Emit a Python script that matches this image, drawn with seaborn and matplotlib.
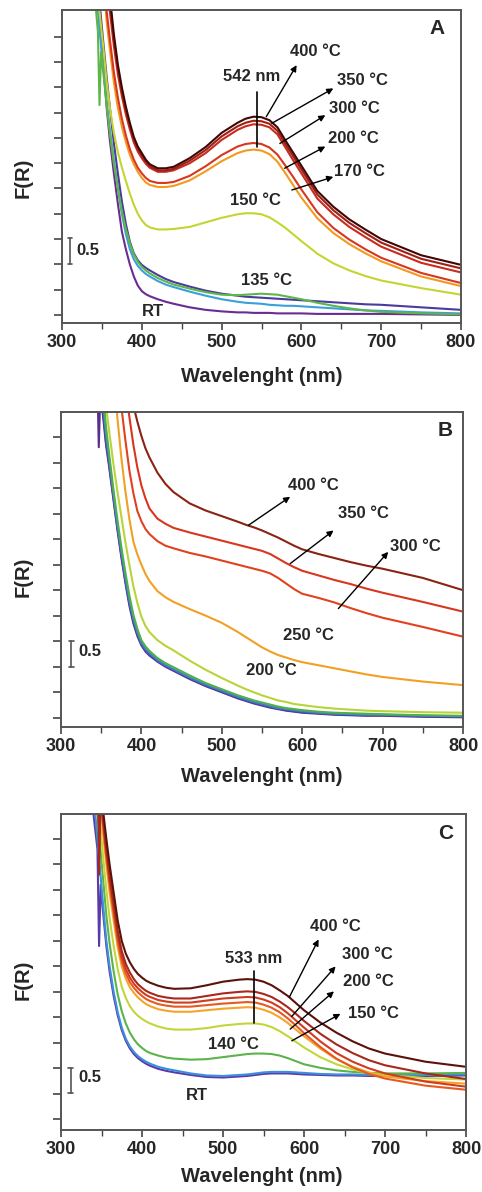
import matplotlib
matplotlib.use("Agg")
import matplotlib.pyplot as plt
import numpy as np
import pandas as pd
import seaborn as sns

# wavelength grid (nm)
wl = [340, 345, 347, 349, 352, 356, 360,
      365, 370, 375, 380, 385, 390, 395, 400, 405, 410, 420, 430, 440,
      460, 480, 500, 520, 530, 540, 550, 560, 570, 580, 590, 600, 620, 640, 660, 680, 700, 750, 800]

# ---------------- Panel A ----------------
a_rt = [7.2, 6.2, 5.8, 5.45, 4.9, 4.1, 3.45,
        2.8, 2.2, 1.65, 1.3, 1.0, 0.76, 0.58, 0.47, 0.41, 0.37, 0.31, 0.26, 0.22,
        0.15, 0.1, 0.07, 0.05, 0.05, 0.04, 0.04, 0.04, 0.03, 0.03, 0.03, 0.03, 0.02, 0.02, 0.02, 0.02, 0.02, 0.01, 0.0]
a_lb = [7.0, 6.0, 5.65, 5.3, 4.85, 4.2, 3.65,
        3.05, 2.5, 2.0, 1.6, 1.3, 1.1, 0.97, 0.88, 0.81, 0.76, 0.67, 0.6, 0.55,
        0.46, 0.38, 0.31, 0.26, 0.24, 0.23, 0.22, 0.2, 0.19, 0.18, 0.18, 0.17, 0.15, 0.13, 0.11, 0.09, 0.08, 0.05, 0.03]
a_ind = [7.8, 6.6, 6.2, 5.85, 5.35, 4.7, 4.1,
         3.4, 2.8, 2.25, 1.8, 1.45, 1.22, 1.08, 0.99, 0.93, 0.88, 0.79, 0.71, 0.65,
         0.56, 0.48, 0.42, 0.38, 0.36, 0.35, 0.34, 0.33, 0.32, 0.31, 0.3, 0.29, 0.27, 0.25, 0.23, 0.21, 0.2, 0.15, 0.1]
a_135 = [6.5, 5.6, 4.15, 5.2, 4.75, 4.15, 3.6,
         3.0, 2.5, 2.05, 1.7, 1.42, 1.2, 1.05, 0.95, 0.88, 0.82, 0.73, 0.66, 0.6,
         0.52, 0.45, 0.4, 0.39, 0.4, 0.41, 0.42, 0.41, 0.4, 0.37, 0.34, 0.31, 0.24, 0.18, 0.13, 0.09, 0.06, 0.03, 0.01]
a_150 = [7.0, 6.3, 6.0, 5.7, 5.25, 4.6, 4.1,
         3.6, 3.22, 2.92, 2.65, 2.4, 2.18, 2.0, 1.87, 1.78, 1.73, 1.69, 1.69, 1.7,
         1.74, 1.83, 1.92, 1.99, 2.01, 2.01, 1.99, 1.93, 1.83, 1.72, 1.59, 1.46, 1.21, 1.02, 0.88, 0.77, 0.68, 0.53, 0.40]
a_170 = [9, 9, 9, 8.3, 6.6, 5.8, 5.25,
         4.6, 4.1, 3.72, 3.42, 3.17, 2.98, 2.83, 2.71, 2.62, 2.57, 2.53, 2.53, 2.55,
         2.66, 2.84, 3.04, 3.2, 3.25, 3.27, 3.25, 3.18, 3.03, 2.8, 2.56, 2.32, 1.91, 1.62, 1.4, 1.22, 1.06, 0.76, 0.57]
a_200 = [9, 9, 9, 8.5, 6.8, 6.0, 5.45,
         4.8, 4.3, 3.88, 3.55, 3.28, 3.07, 2.91, 2.8, 2.71, 2.65, 2.61, 2.61, 2.63,
         2.75, 2.94, 3.16, 3.33, 3.38, 3.4, 3.38, 3.31, 3.17, 2.95, 2.72, 2.48, 2.03, 1.72, 1.49, 1.3, 1.13, 0.83, 0.63]
a_300 = [9, 9, 9, 9, 8.5, 6.5, 6.0,
         5.32, 4.76, 4.33, 3.97, 3.67, 3.41, 3.23, 3.1, 2.99, 2.91, 2.83, 2.83, 2.86,
         3.0, 3.2, 3.46, 3.66, 3.73, 3.77, 3.76, 3.71, 3.57, 3.31, 3.05, 2.8, 2.3, 1.99, 1.74, 1.54, 1.35, 1.03, 0.84]
a_350 = [9, 9, 9, 9, 9, 6.7, 6.15,
         5.45, 4.87, 4.42, 4.05, 3.74, 3.47, 3.28, 3.15, 3.03, 2.94, 2.86, 2.86, 2.89,
         3.05, 3.26, 3.53, 3.73, 3.8, 3.84, 3.83, 3.78, 3.64, 3.38, 3.13, 2.88, 2.38, 2.07, 1.82, 1.62, 1.43, 1.11, 0.92]
a_400 = [9, 9, 9, 9, 9, 6.9, 6.3,
         5.55, 4.95, 4.5, 4.12, 3.8, 3.52, 3.33, 3.2, 3.07, 2.98, 2.9, 2.9, 2.93,
         3.1, 3.32, 3.6, 3.8, 3.88, 3.92, 3.91, 3.85, 3.71, 3.45, 3.2, 2.95, 2.45, 2.14, 1.89, 1.69, 1.5, 1.18, 0.99]

# ---------------- Panel B ----------------
b_rt = [8.0, 6.8, 5.3, 6.4, 5.95, 5.35, 4.9,
        4.3, 3.7, 3.15, 2.65, 2.2, 1.85, 1.6, 1.42, 1.3, 1.22, 1.1, 1.0, 0.92,
        0.76, 0.62, 0.5, 0.38, 0.33, 0.28, 0.24, 0.2, 0.17, 0.14, 0.12, 0.1, 0.08, 0.06, 0.05, 0.04, 0.04, 0.02, 0.01]
b_ind = [8.2, 7.0, 6.7, 6.45, 6.05, 5.4, 4.95,
         4.35, 3.75, 3.2, 2.7, 2.25, 1.9, 1.64, 1.44, 1.32, 1.24, 1.11, 1.01, 0.93,
         0.77, 0.63, 0.51, 0.39, 0.34, 0.29, 0.25, 0.21, 0.18, 0.15, 0.13, 0.11, 0.09, 0.07, 0.06, 0.05, 0.05, 0.03, 0.02]
b_blue = [8.4, 7.2, 6.9, 6.6, 6.2, 5.55, 5.05,
          4.4, 3.8, 3.25, 2.75, 2.3, 1.94, 1.67, 1.47, 1.35, 1.27, 1.13, 1.03, 0.95,
          0.79, 0.65, 0.53, 0.41, 0.36, 0.31, 0.27, 0.23, 0.19, 0.17, 0.15, 0.13, 0.1, 0.08, 0.07, 0.06, 0.06, 0.04, 0.03]
b_grn = [8.6, 7.4, 7.1, 6.8, 6.4, 5.7, 5.15,
         4.5, 3.9, 3.35, 2.85, 2.4, 2.02, 1.74, 1.52, 1.4, 1.31, 1.17, 1.07, 0.99,
         0.83, 0.68, 0.56, 0.44, 0.39, 0.34, 0.3, 0.26, 0.22, 0.19, 0.17, 0.15, 0.12, 0.1, 0.09, 0.08, 0.07, 0.05, 0.04]
b_200 = [9, 8.0, 7.5, 7.0, 6.6, 6.1, 5.6,
         5.0, 4.45, 3.95, 3.45, 3.0, 2.58, 2.25, 1.98, 1.8, 1.68, 1.52, 1.41, 1.32,
         1.12, 0.94, 0.78, 0.63, 0.56, 0.5, 0.44, 0.39, 0.34, 0.31, 0.27, 0.25, 0.21, 0.18, 0.16, 0.14, 0.13, 0.11, 0.1]
b_250 = [9, 9, 9, 9, 9, 9, 7.6,
         6.7, 5.9, 5.1, 4.45, 3.9, 3.45, 3.2, 3.0, 2.82, 2.68, 2.48, 2.36, 2.27,
         2.13, 2.0, 1.86, 1.68, 1.58, 1.48, 1.38, 1.3, 1.23, 1.18, 1.13, 1.09, 1.03, 0.97, 0.91, 0.85, 0.8, 0.71, 0.64]
b_300 = [9, 9, 9, 9, 9, 9, 9,
         7.8, 6.8, 6.1, 5.45, 4.85, 4.4, 4.05, 3.85, 3.7, 3.6, 3.46, 3.37, 3.32,
         3.23, 3.16, 3.08, 3.0, 2.96, 2.92, 2.88, 2.83, 2.74, 2.63, 2.52, 2.43, 2.35, 2.26, 2.15, 2.05, 1.96, 1.78, 1.59]
b_350 = [9, 9, 9, 9, 9, 9, 9,
         9, 9, 7.5, 6.5, 5.9, 5.35, 4.9, 4.55, 4.3, 4.1, 3.9, 3.8, 3.72,
         3.63, 3.55, 3.47, 3.39, 3.35, 3.31, 3.27, 3.21, 3.12, 3.03, 2.95, 2.88, 2.79, 2.7, 2.62, 2.53, 2.45, 2.27, 2.08]
b_400 = [9, 9, 9, 9, 9, 9, 9,
         9, 9, 9, 9, 6.8, 6.12, 5.8, 5.52, 5.28, 5.1, 4.8, 4.58, 4.42,
         4.2, 4.06, 3.95, 3.84, 3.78, 3.73, 3.67, 3.6, 3.53, 3.45, 3.37, 3.3, 3.21, 3.13, 3.05, 2.98, 2.92, 2.74, 2.5]

# ---------------- Panel C ----------------
c_rt = [6.0, 5.3, 3.4, 4.6, 4.05, 3.4, 2.9,
        2.42, 2.04, 1.75, 1.54, 1.39, 1.28, 1.2, 1.14, 1.09, 1.05, 0.99, 0.95, 0.92,
        0.87, 0.83, 0.82, 0.84, 0.85, 0.87, 0.89, 0.9, 0.9, 0.9, 0.89, 0.88, 0.87, 0.86, 0.86, 0.85, 0.85, 0.85, 0.86]
c_blue = [6.4, 5.5, 5.1, 4.75, 4.2, 3.5, 3.0,
          2.5, 2.1, 1.8, 1.58, 1.43, 1.32, 1.24, 1.18, 1.13, 1.09, 1.03, 0.99, 0.96,
          0.9, 0.86, 0.85, 0.87, 0.88, 0.9, 0.92, 0.93, 0.93, 0.93, 0.92, 0.91, 0.89, 0.88, 0.88, 0.87, 0.87, 0.87, 0.88]
c_140 = [7.5, 6.0, 5.6, 5.25, 4.7, 4.0, 3.45,
         2.9, 2.45, 2.12, 1.88, 1.7, 1.57, 1.47, 1.4, 1.34, 1.3, 1.25, 1.21, 1.19,
         1.17, 1.18, 1.22, 1.26, 1.28, 1.29, 1.29, 1.28, 1.25, 1.2, 1.14, 1.08, 1.01, 0.96, 0.93, 0.91, 0.9, 0.9, 0.91]
c_150 = [8.0, 6.4, 6.0, 5.7, 5.15, 4.5, 3.95,
         3.4, 2.95, 2.6, 2.38, 2.22, 2.11, 2.03, 1.97, 1.92, 1.88, 1.82, 1.78, 1.76,
         1.76, 1.79, 1.84, 1.87, 1.88, 1.88, 1.86, 1.81, 1.73, 1.63, 1.52, 1.41, 1.22, 1.08, 0.98, 0.91, 0.87, 0.81, 0.78]
c_170 = [8.5, 6.9, 6.5, 6.2, 5.6, 5.0, 4.45,
         3.9, 3.38, 3.0, 2.76, 2.59, 2.48, 2.39, 2.32, 2.26, 2.22, 2.16, 2.13, 2.11,
         2.11, 2.14, 2.17, 2.19, 2.2, 2.19, 2.15, 2.09, 2.0, 1.89, 1.76, 1.63, 1.39, 1.18, 1.03, 0.92, 0.84, 0.75, 0.7]
c_200 = [9, 7.1, 6.7, 6.4, 5.75, 5.15, 4.6,
         4.05, 3.5, 3.1, 2.86, 2.69, 2.58, 2.49, 2.42, 2.36, 2.32, 2.26, 2.23, 2.21,
         2.21, 2.24, 2.27, 2.29, 2.3, 2.29, 2.25, 2.19, 2.1, 1.98, 1.84, 1.69, 1.42, 1.19, 1.02, 0.89, 0.8, 0.66, 0.58]
c_300 = [9, 7.3, 6.9, 6.5, 5.85, 5.25, 4.7,
         4.15, 3.6, 3.2, 2.95, 2.78, 2.66, 2.57, 2.5, 2.44, 2.4, 2.34, 2.31, 2.29,
         2.29, 2.33, 2.37, 2.39, 2.4, 2.39, 2.35, 2.29, 2.2, 2.08, 1.94, 1.8, 1.53, 1.3, 1.13, 1.0, 0.9, 0.74, 0.64]
c_350 = [9, 7.5, 4.8, 6.4, 5.9, 5.3, 4.8,
         4.25, 3.7, 3.3, 3.05, 2.88, 2.75, 2.65, 2.58, 2.52, 2.48, 2.42, 2.39, 2.37,
         2.37, 2.42, 2.47, 2.5, 2.51, 2.5, 2.46, 2.4, 2.31, 2.2, 2.07, 1.93, 1.68, 1.47, 1.3, 1.16, 1.06, 0.9, 0.79]
c_400 = [9, 8.0, 7.5, 6.6, 6.05, 5.5, 5.0,
         4.45, 3.9, 3.5, 3.25, 3.08, 2.95, 2.85, 2.78, 2.72, 2.68, 2.62, 2.58, 2.56,
         2.57, 2.63, 2.7, 2.74, 2.75, 2.74, 2.7, 2.63, 2.53, 2.42, 2.28, 2.14, 1.9, 1.7, 1.53, 1.39, 1.29, 1.13, 1.03]

x_ticks = [300, 400, 500, 600, 700, 800]
x_label = "Wavelenght (nm)"
y_label = "F(R)"

sns.set_theme(style="white")
plt.rcParams['font.family'] = ['Liberation Sans', 'DejaVu Sans']
plt.rcParams['font.weight'] = 'bold'

W, H = 482, 1192
fig = plt.figure(figsize=(W / 100, H / 100), dpi=100)
fig.patch.set_facecolor('white')

TXT = '#262626'


def px_axes(l, t, r, b):
    return fig.add_axes([l / W, 1 - b / H, (r - l) / W, (b - t) / H])


def draw(ax, series, ylim):
    frames = []
    for name, vals, col in series:
        assert len(vals) == len(wl), name
        frames.append(pd.DataFrame({'wl': wl, 'F': vals, 'series': name}))
    df = pd.concat(frames, ignore_index=True)
    pal = {name: col for name, vals, col in series}
    order = [name for name, vals, col in series]
    sns.lineplot(data=df, x='wl', y='F', hue='series', hue_order=order, palette=pal,
                 estimator=None, sort=False, legend=False, lw=1.5, ax=ax)
    ax.set_xlim(300, 800)
    ax.set_ylim(*ylim)
    ax.set_xticks(x_ticks)
    ax.set_xticks([350, 450, 550, 650, 750], minor=True)
    ax.set_yticks(np.arange(0, 5.6, 0.5))
    ax.set_yticklabels([])
    ax.set_xticklabels([str(v) for v in x_ticks], fontsize=13, fontweight='bold', color=TXT)
    ax.tick_params(axis='x', which='major', direction='out', length=5, width=1.2,
                   color='#444', pad=3, bottom=True)
    ax.tick_params(axis='x', which='minor', direction='out', length=4, width=1.0,
                   color='#444', bottom=True)
    ax.tick_params(axis='y', which='major', direction='out', length=6, width=1.2,
                   color='#444', left=True)
    ax.set_xlabel('')
    ax.set_ylabel('')
    for s in ax.spines.values():
        s.set_color('#555')
        s.set_linewidth(1.4)


def scalebar(ax, x, y0, y1, tx, ty):
    ax.plot([x, x], [y0, y1], color='#555', lw=1.2)
    ax.plot([x - 3, x + 3], [y0, y0], color='#555', lw=1.2)
    ax.plot([x - 3, x + 3], [y1, y1], color='#555', lw=1.2)
    ax.text(tx, ty, '0.5', fontsize=12, fontweight='bold', color=TXT, ha='center', va='center')


def label(ax, x, y, s, size=12):
    ax.text(x, y, s, fontsize=size, fontweight='bold', color=TXT, ha='center', va='center')


def arrow(ax, x0, y0, x1, y1):
    ax.annotate('', xy=(x1, y1), xytext=(x0, y0),
                arrowprops=dict(arrowstyle='-|>', lw=1.0, color='black', mutation_scale=9,
                                shrinkA=0, shrinkB=0))


# ---------------- Panel A ----------------
axA = px_axes(62, 10, 461, 323)
draw(axA, [('RT', a_rt, '#6b2c91'), ('100', a_lb, '#3aa0dc'), ('120', a_ind, '#4a3b9c'),
           ('135', a_135, '#5db64a'), ('150', a_150, '#c4d52f'), ('170', a_170, '#f39a1e'),
           ('200', a_200, '#d9361f'), ('300', a_300, '#c92b1c'), ('350', a_350, '#a01f14'),
           ('400', a_400, '#3e0806')], (-0.16, 6.03))
axA.text(0.94, 0.942, 'A', transform=axA.transAxes, fontsize=15, fontweight='bold',
         color=TXT, ha='center', va='center')
label(axA, 538, 4.71, '542 nm')
axA.plot([544, 544], [3.33, 4.41], color='black', lw=1.2)
label(axA, 617, 5.20, '400 °C')
label(axA, 676, 4.64, '350 °C')
label(axA, 667, 4.08, '300 °C')
label(axA, 665, 3.49, '200 °C')
label(axA, 673, 2.83, '170 °C')
label(axA, 542, 2.27, '150 °C')
label(axA, 556, 0.69, '135 °C')
label(axA, 414, 0.07, 'RT')
arrow(axA, 556, 3.92, 594, 4.94)
arrow(axA, 563, 3.79, 640, 4.48)
arrow(axA, 573, 3.39, 630, 3.95)
arrow(axA, 579, 2.90, 630, 3.33)
arrow(axA, 588, 2.47, 640, 2.73)
scalebar(axA, 310, 1.0, 1.52, 333, 1.28)

# ---------------- Panel B ----------------
axB = px_axes(61, 412, 463, 727)
draw(axB, [('RT', b_rt, '#5b2d8e'), ('100', b_ind, '#4a46a8'), ('135', b_blue, '#3d7fc6'),
           ('150', b_grn, '#4fb04a'), ('200', b_200, '#b8d438'), ('250', b_250, '#f2a024'),
           ('300', b_300, '#e2411f'), ('350', b_350, '#d8361e'), ('400', b_400, '#8a2314')],
     (-0.18, 5.99))
axB.text(0.955, 0.942, 'B', transform=axB.transAxes, fontsize=15, fontweight='bold',
         color=TXT, ha='center', va='center')
label(axB, 614, 4.56, '400 °C')
label(axB, 676, 4.00, '350 °C')
label(axB, 741, 3.35, '300 °C')
label(axB, 608, 1.62, '250 °C')
label(axB, 562, 0.93, '200 °C')
arrow(axB, 533, 3.77, 585, 4.33)
arrow(axB, 585, 3.02, 639, 3.67)
arrow(axB, 645, 2.14, 707, 3.25)
scalebar(axB, 313, 1.0, 1.51, 336, 1.29)

# ---------------- Panel C ----------------
axC = px_axes(61, 814, 466, 1130)
draw(axC, [('RT', c_rt, '#5a3aa8'), ('120', c_blue, '#3d8fdc'), ('140', c_140, '#5ab44a'),
           ('150', c_150, '#c4d53a'), ('170', c_170, '#f5a32a'), ('200', c_200, '#e55a20'),
           ('300', c_300, '#d23a20'), ('350', c_350, '#a8281c'), ('400', c_400, '#5a120a')],
     (-0.21, 5.99))
axC.text(0.949, 0.939, 'C', transform=axC.transAxes, fontsize=15, fontweight='bold',
         color=TXT, ha='center', va='center')
label(axC, 538, 3.16, '533 nm')
axC.plot([538, 538], [1.88, 2.90], color='black', lw=1.2)
label(axC, 639, 3.78, '400 °C')
label(axC, 678, 3.23, '300 °C')
label(axC, 680, 2.70, '200 °C')
label(axC, 686, 2.08, '150 °C')
label(axC, 513, 1.46, '140 °C')
label(axC, 468, 0.46, 'RT')
arrow(axC, 582, 2.40, 618, 3.53)
arrow(axC, 585, 2.02, 639, 3.00)
arrow(axC, 583, 1.77, 637, 2.51)
arrow(axC, 585, 1.54, 645, 2.07)
scalebar(axC, 312, 0.51, 1.0, 336, 0.82)

# axis titles
for ylab_y, xlab_y in [(178, 377), (577, 777), (980, 1177)]:
    fig.text(23 / W, 1 - ylab_y / H, y_label, rotation=90, fontsize=14.5, fontweight='bold',
             color=TXT, ha='center', va='center')
    fig.text(262 / W, 1 - xlab_y / H, x_label, fontsize=14.5, fontweight='bold',
             color=TXT, ha='center', va='center')

fig.savefig('out.png', dpi=100, facecolor='white')
